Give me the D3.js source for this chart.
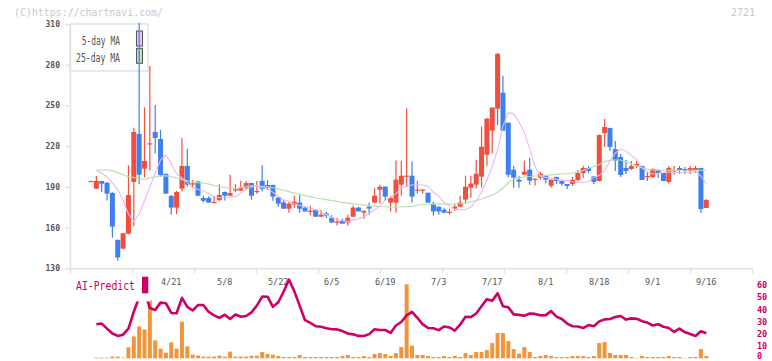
<!DOCTYPE html>
<html>
<head>
<meta charset="utf-8">
<script src="https://cdn.jsdelivr.net/npm/d3@7"></script>
<style>
  html, body { margin: 0; padding: 0; background: #fff; }
  svg { display: block; }
  text { font-family: "DejaVu Sans Mono", "Liberation Mono", monospace; }
</style>
</head>
<body>
<div id="chart"></div>
<script>
// trading days, 2025
var dates = ["3/31","4/1","4/2","4/3","4/4","4/7","4/8","4/9","4/10","4/11","4/14","4/15","4/16","4/17","4/18",
  "4/21","4/22","4/23","4/24","4/25","4/28","4/30","5/1","5/2","5/7","5/8","5/9","5/12","5/13","5/14","5/15","5/16",
  "5/19","5/20","5/21","5/22","5/23","5/26","5/27","5/28","5/29","5/30","6/2","6/3","6/4","6/5","6/6","6/9","6/10",
  "6/11","6/12","6/13","6/16","6/17","6/18","6/19","6/20","6/23","6/24","6/25","6/26","6/27","6/30","7/1","7/2","7/3",
  "7/4","7/7","7/8","7/9","7/10","7/11","7/14","7/15","7/16","7/17","7/18","7/22","7/23","7/24","7/25","7/28","7/29",
  "7/30","7/31","8/1","8/4","8/5","8/6","8/7","8/8","8/12","8/13","8/14","8/15","8/18","8/19","8/20","8/21","8/22",
  "8/25","8/26","8/27","8/28","8/29","9/1","9/2","9/3","9/4","9/5","9/8","9/9","9/10","9/11","9/12","9/16"];

var openPrice = [194.2,188.7,194.3,193,185.5,151,144.5,155.5,193.6,229,203.4,221.5,230.4,225.3,199.5,
  183.3,174.7,188.7,205.4,192.3,194,181.8,181.8,178.6,180.3,186.2,183.5,188,187.3,189.4,192.8,186.8,
  194.4,191.4,191.4,182,178.6,173.9,176.9,178.4,174.7,172.2,173.1,168,170.2,167.3,164.2,165,163.7,
  168,174.7,171,175.4,178.4,187.9,190.1,178.4,178.4,191.6,198,198.2,188,187.9,185.7,177.6,175.4,
  173.1,171.5,173.9,175.4,180.6,189.4,191.6,197.5,213.7,231.4,247.6,259.4,237.3,202.6,195.3,199,202.6,
  195.8,196.8,198.2,190.9,197.3,194.3,192.1,192.1,195.1,200.2,203.9,197.7,194.3,229.7,233.4,217.8,212,
  203.9,203.2,205.4,205.4,197.8,197.3,202.4,200.2,193.6,202.2,203.9,203.2,201.7,202.4,203.9,174.4];

var highPrice = [194.5,198,194.3,193.5,186,151,156,206,233.6,311,248.6,279,250.3,232,200,
  184,187,226,218,195,194.5,183.5,183,183,192,186.5,199,192,194.5,194.3,193,194.3,
  206,195,191.5,182.5,180.6,179.8,183.5,184,175,176,173.5,173,171.7,169,167.3,166.5,169.5,
  176,175.4,172.5,178.4,189,191.6,190.5,183.5,209.5,209.3,248,208.6,194.5,188.2,185.7,179.1,175.5,
  174.7,174,177.6,183.5,198.2,198.2,210,234.4,240.5,248.5,288.2,271.9,237.3,205.6,198.2,209.3,211.5,
  196.2,201.2,198.5,195.5,197.5,194.5,192.2,197.3,202.4,205.4,205.4,198,228.5,240,233.5,223.8,214.2,
  209.8,209.1,209.1,205.5,201,203.5,203,200.3,205.4,205.4,205.4,204.7,205.4,205.4,204,181];

var lowPrice = [194,188.7,186,180,152.6,135.6,144,155,161,192,197,202,214.5,197.5,185,
  169.5,170,186.5,190,189,183,178.4,178.4,178,179.5,180,183,186,187,187.7,180.5,185,
  186.5,187.7,179.8,175.4,173.9,171,174.7,171,171.9,169,168,168,167,163.7,161.5,162.9,161.4,
  168,171.9,166.3,169.5,178,177.6,179.5,172,171,183.5,190,178.4,185,185,178.4,168.8,169.5,
  170.5,169.5,172.4,175,177.6,182,189,189.4,205.6,214.5,235.6,231.4,197,189.4,189.4,198.5,191.6,
  191,195.3,192.4,189.4,192.1,190.8,188.4,190.7,194.3,196.5,200,192.1,194,219.4,216.4,201.7,197.3,
  199.5,202.4,203.9,195,194.3,196.5,196.5,194.3,192.5,199,199.5,199.5,199.5,200.2,170.8,174.4];

var closePrice = [194.3,194.3,192.3,185,160.7,138,155.8,184,230.4,199,209.1,222.1,226,198.7,185,
  174.7,186.2,205.4,191.6,192.6,183.5,179.8,178.4,178.9,184,183.5,185.5,188.2,189.3,192.8,183.5,187,
  188.4,189.4,182.8,177.6,173.9,177.6,179.1,173.9,171.9,172.4,168,169.5,168.8,163.7,164.4,162.9,167.3,
  174.7,171.9,172.4,174,183.5,190.1,182.8,182,195.3,198.2,198.3,182.8,188.1,188,178.4,171.9,171.9,
  171,171.7,175.4,178.4,190.1,192.4,199.7,219.6,240.3,248.4,288.1,231.4,198.9,196.8,193.8,201.2,194.6,
  196,199.7,195.3,195.3,194.3,192.3,190.7,195.1,200.2,203.9,201.7,193.6,228.2,234.1,219.4,209.3,198.8,
  201.7,205.4,206.9,195.1,198,203.2,200.2,194.3,203.9,202.4,202.4,201.7,203.9,203.9,173.7,180.3];

var ma5 = [null,202,200,197.5,193,188,180,170,164.4,170,180,190,200,210,213.5,
  207,199.5,196.5,193,189.5,188,187,185,183,182,182,182.5,183,185.5,188,190,190.5,
  189.5,188.5,186,183,180.5,179,177.5,176.5,175.5,174.5,173,171.5,169.5,167.5,166,165,164.5,
  165.5,166.5,168,170.5,173,176,180,182.5,185,189,190.5,191.4,191.6,191.4,190.5,186,183,
  178.5,176,173.5,173,173.5,175,180,186,195,205,217,235,244.5,244,238,230,218,
  205,198,197,196.5,195.5,195,194.5,193.8,193.5,193,194,197,198.5,202,209,215,217.7,
  216.5,213,210,204,201,199.5,200,200.5,201,200.5,200.5,200.5,201,201.5,198,192.1];

var ma25 = [null,202.4,202.4,202.4,202,200.5,199,197.5,197,196,195.7,196.5,197.5,198,198.3,
  197.5,196.5,195.5,194.4,193.5,193.1,192.8,192,191,190.3,189.5,189,189,189.2,190.5,190.7,190.7,
  190.5,190,189.3,188.5,187.5,186.5,185.5,184.5,183.5,182.8,182,181.3,180.6,180,179.3,178.6,178,
  177.5,177,176.6,176.2,175.8,175.5,175.4,175.2,175.2,175.3,175.4,175.6,176.5,177.2,177.2,177.3,177.3,
  177.3,177.3,177.4,177.6,178.2,179,180,181,182.5,184,186,189,193,195.5,196.8,197.3,197.6,
  198,198.2,198.5,198.8,199.2,199.5,199.8,200.2,201,202,203.5,205,206.5,208.5,209.5,209.8,209.8,
  208.5,207,205.5,204,203,202.5,202.2,202.2,202.2,202.2,202.2,202.2,202.2,202.2,202.2,202.2,202.2];

var volume = [0,7,7,7,17,17,7,110,220,320,290,580,180,97,57,
  160,97,367,120,37,27,17,17,17,27,17,67,17,17,17,26,26,
  63,43,36,23,13,13,13,33,13,13,13,13,13,13,13,23,33,
  13,13,23,13,43,53,43,23,53,113,743,127,33,33,23,13,13,
  23,13,23,13,53,33,63,63,83,153,253,253,173,93,48,113,63,
  13,23,33,23,13,13,13,23,23,23,13,23,153,163,53,33,33,
  33,13,3,23,13,13,13,13,23,13,13,3,13,13,93,23];

var aiPredict = [null,27.6,28.2,24,20,18,19,24,38,50,55,41,39.5,45.5,45,
  37,36.7,49.5,42,39,43.5,43.6,37.8,35,33,35.5,32,35.7,33.9,34.5,37.5,43,
  50.5,50.4,42,45.8,54.5,64.5,55,43,31,28.8,26,25.6,24.4,23.5,23.4,22,20,
  19.3,18,17.9,19.5,23.5,22.9,22.9,20.5,26.6,29.5,35,37.8,33,27.5,24.6,24.3,22.8,
  25.8,25,22.4,27.3,33.8,33.5,36.5,42.5,48.4,47,53.2,42.6,41.7,35.8,35.4,34.6,36.5,
  36.2,35,35.2,38.5,34,32,28.2,26,25.8,24.5,27,26,30,31.7,32,33.6,34.5,
  31.5,32.5,32.2,30.2,29,26.6,27.6,25.6,24.6,21.3,24,21,19.6,18,21.8,20.2];

var priceTicks = [130, 160, 190, 220, 250, 280, 310];
var aiTicks = [0, 10, 20, 30, 40, 50, 60];
var dateLabels = ["4/21","5/8","5/22","6/5","6/19","7/3","7/17","8/1","8/18","9/1","9/16"];

(function () {
  'use strict';

  var W = 772, H = 361;
  var upColor = "#f04f3f", downColor = "#3f7ff0";
  var axisColor = "#e2e2e2";
  var aiColor = "#cc0066";

  var svg = d3.select("#chart").append("svg")
    .attr("width", W)
    .attr("height", H);

  var x = d3.scalePoint().domain(dates).range([91, 706.25]);
  var y = d3.scaleLinear().domain([130, 310]).range([268.3, 24]);
  var grid = d3.scaleLinear().domain([0, 11]).range([70, 752]);
  var yAi = d3.scaleLinear().domain([0, 60]).range([357.7, 285.1]);
  var yVol = d3.scaleLinear().domain([0, 750]).range([358.3, 283.6]);

  function idx() { return d3.range(dates.length); }

  // watermark + code
  svg.append("text")
    .attr("x", 14).attr("y", 16)
    .attr("font-size", 11)
    .attr("textLength", 149).attr("lengthAdjust", "spacingAndGlyphs")
    .attr("fill", "#c8c8c8")
    .text("(C)https://chartnavi.com/");
  svg.append("text")
    .attr("x", 755).attr("y", 16)
    .attr("font-size", 10)
    .attr("text-anchor", "end")
    .attr("fill", "#c8c8c8")
    .text("2721");

  // legend box (under the candles)
  var legend = svg.append("g");
  legend.append("rect")
    .attr("x", 70).attr("y", 24).attr("width", 78).attr("height", 47)
    .attr("fill", "#fff").attr("stroke", axisColor).attr("stroke-width", 1.5);
  [["5-day MA", "#f0c0f2", 44.5, 31, 38.3], ["25-day MA", "#b9e0ae", 61.7, 48.3, 44]].forEach(function (l) {
    legend.append("text")
      .attr("x", 120).attr("y", l[2])
      .attr("text-anchor", "end")
      .attr("font-size", 11.5)
      .attr("textLength", l[4]).attr("lengthAdjust", "spacingAndGlyphs")
      .attr("fill", "#555")
      .text(l[0]);
    legend.append("rect")
      .attr("x", 136.5).attr("y", l[3]).attr("width", 6).attr("height", 15)
      .attr("fill", l[1]).attr("stroke", "#555").attr("stroke-width", 1);
  });

  // price axis
  var yAxis = svg.append("g")
    .attr("transform", "translate(70,0)")
    .call(d3.axisLeft(y).tickValues(priceTicks).tickSize(5).tickSizeOuter(0).tickPadding(5));
  yAxis.select(".domain").attr("stroke", axisColor).attr("stroke-width", 1.5);
  yAxis.selectAll(".tick line").attr("stroke", axisColor).attr("stroke-width", 1.5);
  yAxis.selectAll(".tick text")
    .attr("fill", "#555")
    .attr("font-size", 8)
    .attr("font-weight", "bold")
    .attr("font-family", "DejaVu Sans Mono, monospace");

  // bottom frame with ticks
  var xAxis = svg.append("g")
    .attr("transform", "translate(0,268.3)")
    .call(d3.axisBottom(grid).ticks(11).tickSize(5).tickSizeOuter(0).tickFormat(""));
  xAxis.select(".domain").attr("stroke", axisColor).attr("stroke-width", 1.5);
  xAxis.selectAll(".tick line").attr("stroke", axisColor).attr("stroke-width", 1.5);

  // date labels
  svg.append("g").selectAll("text")
    .data(dateLabels)
    .enter().append("text")
    .attr("x", function (d) { return x(d); })
    .attr("y", 285)
    .attr("text-anchor", "middle")
    .attr("font-size", 8.5)
    .attr("fill", "#555")
    .text(function (d) { return d; });

  // candles
  var candles = svg.append("g").selectAll("g")
    .data(idx())
    .enter().append("g")
    .attr("fill", function (i) { return closePrice[i] >= openPrice[i] ? upColor : downColor; })
    .attr("stroke", function (i) { return closePrice[i] >= openPrice[i] ? upColor : downColor; });

  candles.append("line")
    .attr("x1", function (i) { return x(dates[i]); })
    .attr("x2", function (i) { return x(dates[i]); })
    .attr("y1", function (i) { return y(highPrice[i]); })
    .attr("y2", function (i) { return y(lowPrice[i]); })
    .attr("stroke-width", 1.2);

  candles.append("rect")
    .attr("x", function (i) { return x(dates[i]) - 2.5; })
    .attr("width", 5)
    .attr("y", function (i) { return y(Math.max(openPrice[i], closePrice[i])); })
    .attr("height", function (i) {
      return Math.max(1.2, y(Math.min(openPrice[i], closePrice[i])) - y(Math.max(openPrice[i], closePrice[i])));
    })
    .attr("stroke", "none");

  // moving averages
  function maLine(values) {
    return d3.line()
      .defined(function (i) { return values[i] != null; })
      .x(function (i) { return x(dates[i]); })
      .y(function (i) { return y(values[i]); });
  }
  svg.append("path")
    .attr("d", maLine(ma25)(idx()))
    .attr("fill", "none").attr("stroke", "#b6dea9").attr("stroke-width", 1.1);
  svg.append("path")
    .attr("d", maLine(ma5)(idx()))
    .attr("fill", "none").attr("stroke", "#ecb6ee").attr("stroke-width", 1.1);

  // volume
  svg.append("g").selectAll("rect")
    .data(idx().filter(function (i) { return volume[i] > 0; }))
    .enter().append("rect")
    .attr("x", function (i) { return x(dates[i]) - 2; })
    .attr("width", 4)
    .attr("y", function (i) { return yVol(volume[i]); })
    .attr("height", function (i) { return yVol(0) - yVol(volume[i]); })
    .attr("fill", "#f1953d");

  // AI-Predict line
  svg.append("path")
    .attr("d", d3.line()
      .defined(function (i) { return aiPredict[i] != null; })
      .x(function (i) { return x(dates[i]); })
      .y(function (i) { return yAi(aiPredict[i]); })(idx()))
    .attr("fill", "none")
    .attr("stroke", aiColor)
    .attr("stroke-width", 2.6)
    .attr("stroke-linejoin", "round");

  // label block (white back hides the line under it)
  svg.append("rect")
    .attr("x", 72).attr("y", 273).attr("width", 78).attr("height", 28.5)
    .attr("fill", "#fff");
  svg.append("text")
    .attr("x", 76).attr("y", 290)
    .attr("font-size", 11.5)
    .attr("textLength", 59).attr("lengthAdjust", "spacingAndGlyphs")
    .attr("fill", aiColor)
    .text("AI-Predict");
  svg.append("rect")
    .attr("x", 142).attr("y", 276.7).attr("width", 6.3).attr("height", 16.6)
    .attr("fill", aiColor);

  // right axis for AI-Predict
  var aiAxis = svg.append("g")
    .attr("transform", "translate(752,0)")
    .call(d3.axisRight(yAi).tickValues(aiTicks).tickSize(0).tickPadding(5));
  aiAxis.select(".domain").remove();
  aiAxis.selectAll(".tick text")
    .attr("fill", aiColor)
    .attr("font-size", 8.5)
    .attr("font-weight", "bold")
    .attr("font-family", "DejaVu Sans Mono, monospace")
    .attr("dy", function (d) { return d === 0 ? "0.05em" : "0.32em"; });

}());
</script>
</body>
</html>
